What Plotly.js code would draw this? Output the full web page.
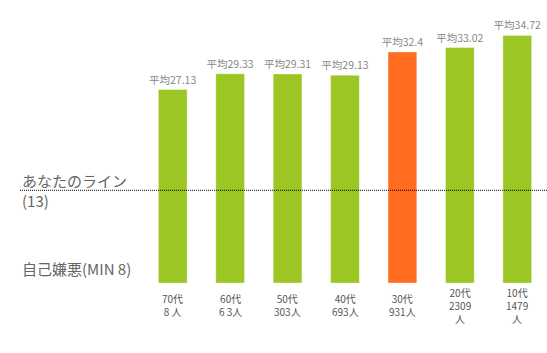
<!DOCTYPE html>
<html>
<head>
<meta charset="utf-8">
<script src="https://cdn.plot.ly/plotly-3.0.1.min.js"></script>
<style>html,body{margin:0;padding:0;background:#fff;}#chart{width:547px;height:353px;}</style>
</head>
<body>
<div id="chart"></div>
<script>
const categories = ["70代", "60代", "50代", "40代", "30代", "20代", "10代"];
const counts = ["8 人", "6 3人", "303人", "693人", "931人", "2309<br>人", "1479<br>人"];
const averages = [27.13, 29.33, 29.31, 29.13, 32.4, 33.02, 34.72];
const barColors = ["#9bc623", "#9bc623", "#9bc623", "#9bc623", "#ff6b1f", "#9bc623", "#9bc623"];
const yourLine = 13;
const yourLineLabel = "あなたのライン<br>(13)";
const minLabel = "自己嫌悪(MIN 8)";

const FONT = '"Noto Sans CJK JP", "Noto Sans", sans-serif';

const trace = {
  type: 'bar',
  x: categories,
  y: averages,
  width: 0.5,
  marker: { color: barColors, line: { color: 'rgba(255,255,255,0.35)', width: 1 } },
  text: averages.map(v => '平均' + v),
  textposition: 'outside',
  constraintext: 'none',
  textfont: { family: FONT, size: 10.5, color: '#888888' },
  cliponaxis: false,
  hoverinfo: 'none'
};

const xAnnotations = categories.map((c, i) => ({
  x: c, xref: 'x', y: -0.083, yref: 'paper',
  text: c + '<br>' + counts[i],
  showarrow: false, xanchor: 'center', yanchor: 'middle',
  font: { family: FONT, size: 10, color: '#555555' }
}));

const layout = {
  width: 547, height: 353,
  margin: { l: 144, r: 1, t: 12, b: 70 },
  paper_bgcolor: '#ffffff', plot_bgcolor: '#ffffff',
  showlegend: false,
  xaxis: { type: 'category', range: [-0.5, 6.5], showticklabels: false, showgrid: false, zeroline: false, showline: false, ticks: '' },
  yaxis: { range: [0, 38], showticklabels: false, showgrid: false, zeroline: false, showline: false, ticks: '' },
  shapes: [{
    type: 'line', xref: 'paper', yref: 'y',
    x0: -0.3085, x1: 1.003, y0: yourLine, y1: yourLine,
    line: { color: '#000000', width: 1, dash: '1px,1px' }
  }],
  annotations: [
    { xref: 'paper', x: -0.3085, yref: 'y', y: yourLine, text: yourLineLabel, showarrow: false,
      xanchor: 'left', yanchor: 'middle', align: 'left',
      font: { family: FONT, size: 15, color: '#666666' } },
    { xref: 'paper', x: -0.3085, yref: 'y', y: 2.1, text: minLabel, showarrow: false,
      xanchor: 'left', yanchor: 'middle', align: 'left',
      font: { family: FONT, size: 15, color: '#666666' } }
  ].concat(xAnnotations)
};

Plotly.newPlot('chart', [trace], layout, { displayModeBar: false, staticPlot: true });
</script>
</body>
</html>
